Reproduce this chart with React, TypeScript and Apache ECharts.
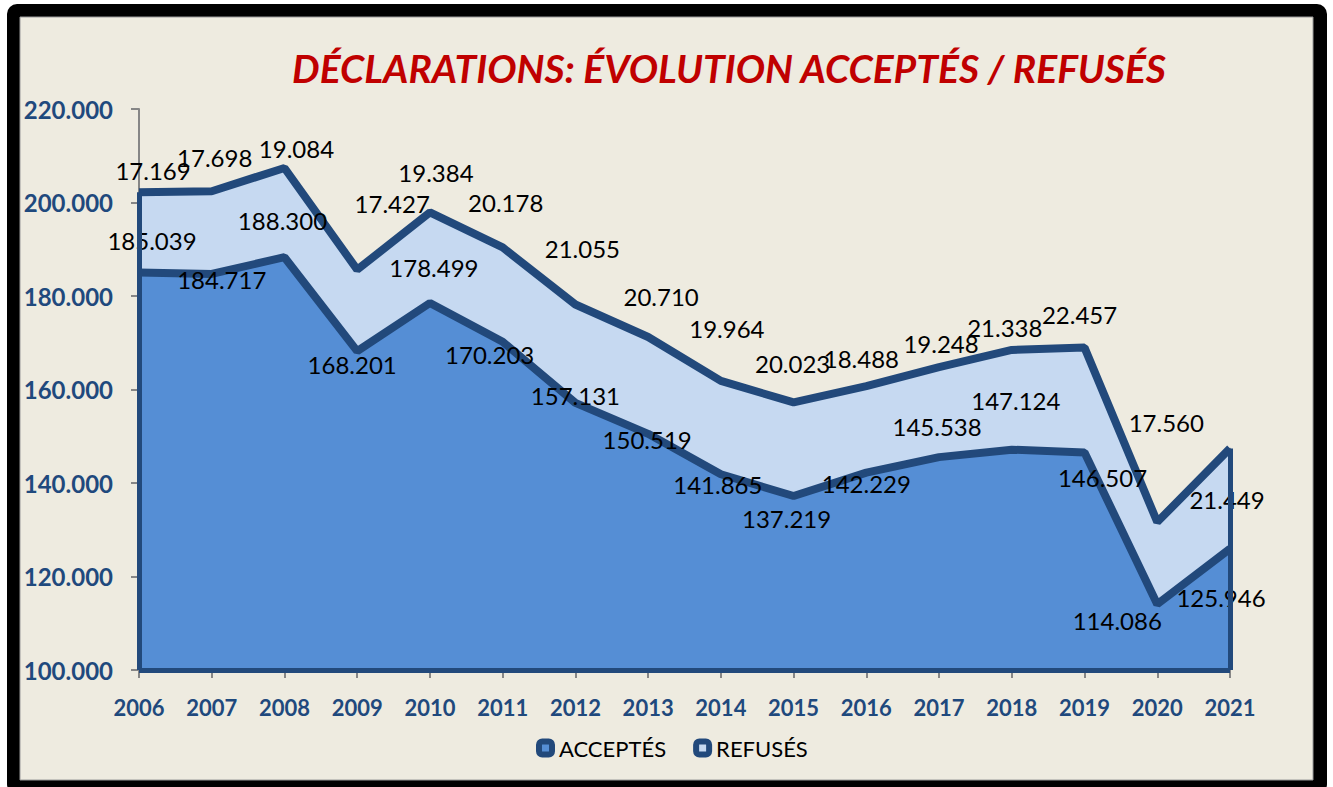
import React, { useEffect, useRef } from 'react';
import * as echarts from 'echarts';

const years = ['2006', '2007', '2008', '2009', '2010', '2011', '2012', '2013', '2014', '2015', '2016', '2017', '2018', '2019', '2020', '2021'];
const accepted = [185039, 184717, 188300, 168201, 178499, 170203, 157131, 150519, 141865, 137219, 142229, 145538, 147124, 146507, 114086, 125946];
const refused = [17169, 17698, 19084, 17427, 19384, 20178, 21055, 20710, 19964, 20023, 18488, 19248, 21338, 22457, 17560, 21449];
const yMin = 100000;
const yMax = 220000;
const yStep = 20000;

// label offsets (style only)
const accOffsets: number[][] = [[13, -32], [10, 6], [-2, -37], [-5, 13], [4, -36], [-13, 13], [0, -7], [-1, 6], [-3, 10], [-7, 22], [0, 11], [-2, -31], [4, -49], [18, 25], [-40, 16], [-9, 49]];
const refOffsets: number[][] = [[14, -22], [3, -34], [12, -19], [35, -66], [6, -40], [3, -45], [7, -56], [13, -41], [6, -52], [-1, -39], [-5, -28], [2, -24], [-7, -22], [-5, -33], [9, -100], [-3, 51]];

const DARK = '#22497B';
const ACC = '#558ED5';
const REF = '#C6D9F1';
const BG = '#EEEBE0';
const AXIS = '#868686';

const fmt = (v: number) => String(Math.round(v)).replace(/\B(?=(\d{3})+(?!\d))/g, '.');

export default function App() {
  const ref = useRef<HTMLDivElement>(null);
  useEffect(() => {
    if (!ref.current) return;
    const chart = echarts.init(ref.current, undefined, { renderer: 'svg' });
    const last = years.length - 1;
    const labelBase = {
      show: true,
      position: 'inside',
      align: 'center',
      verticalAlign: 'middle',
      fontFamily: 'Lato',
      fontSize: 24,
      color: '#000',
      formatter: (p: any) => fmt(p.value),
    };
    chart.setOption({
      animation: false,
      backgroundColor: '#ffffff',
      graphic: [
        { type: 'rect', shape: { x: 7, y: 4, width: 1320, height: 790, r: 10 }, style: { fill: '#000' }, z: -10, silent: true },
        { type: 'rect', shape: { x: 20, y: 17, width: 1293, height: 763 }, style: { fill: BG, stroke: '#9a9a9a', lineWidth: 1 }, z: -9, silent: true },
        {
          type: 'text', x: 729, y: 68, z: 10,
          style: {
            text: 'DÉCLARATIONS: ÉVOLUTION ACCEPTÉS / REFUSÉS',
            fill: '#C00000', font: 'italic bold 39px Lato', textAlign: 'center', textVerticalAlign: 'middle',
          },
        },
      ],
      grid: { left: 139, right: 103, top: 109, bottom: 117, containLabel: false },
      legend: {
        left: 533, top: 734, padding: 3, itemWidth: 13, itemHeight: 13, itemGap: 27,
        textStyle: { fontFamily: 'Lato', fontSize: 22, color: '#000', padding: [0, 0, 0, 2] },
        data: [
          { name: 'ACCEPTÉS', icon: 'roundRect', itemStyle: { color: ACC, borderColor: DARK, borderWidth: 6 } },
          { name: 'REFUSÉS', icon: 'roundRect', itemStyle: { color: REF, borderColor: DARK, borderWidth: 6 } },
        ],
      },
      xAxis: {
        type: 'category', data: years, boundaryGap: false,
        axisLine: { lineStyle: { color: AXIS, width: 2 } },
        axisTick: { show: true, length: 8, lineStyle: { color: AXIS, width: 2 } },
        axisLabel: { margin: 26, fontFamily: 'Lato', fontWeight: 'bold', fontSize: 22, color: '#1F497D' },
        splitLine: { show: false },
      },
      yAxis: {
        type: 'value', min: yMin, max: yMax, interval: yStep,
        axisLine: { show: true, lineStyle: { color: AXIS, width: 2 } },
        axisTick: { show: true, length: 8, lineStyle: { color: AXIS, width: 2 } },
        axisLabel: { margin: 26, fontFamily: 'Lato', fontWeight: 'bold', fontSize: 24, color: '#1F497D', formatter: (v: number) => fmt(v) },
        splitLine: { show: false },
      },
      series: [
        {
          name: 'ACCEPTÉS', type: 'line', stack: 'total', z: 3,
          symbol: 'circle', symbolSize: 1, showSymbol: true,
          itemStyle: { color: DARK },
          lineStyle: { color: DARK, width: 8 },
          areaStyle: { color: ACC, opacity: 1 },
          data: accepted.map((v, i) => ({ value: v, label: { ...labelBase, offset: accOffsets[i] } })),
          markLine: {
            silent: true, symbol: 'none', label: { show: false },
            lineStyle: { color: DARK, width: 5, type: 'solid' },
            data: [
              [{ coord: [years[0], yMin] }, { coord: [years[0], accepted[0] + refused[0]] }],
              [{ coord: [years[last], yMin] }, { coord: [years[last], accepted[last] + refused[last]] }],
              [{ coord: [years[0], yMin] }, { coord: [years[last], yMin] }],
            ],
          },
        },
        {
          name: 'REFUSÉS', type: 'line', stack: 'total', z: 2,
          symbol: 'circle', symbolSize: 1, showSymbol: true,
          itemStyle: { color: DARK },
          lineStyle: { color: DARK, width: 8 },
          areaStyle: { color: REF, opacity: 1 },
          data: refused.map((v, i) => ({ value: v, label: { ...labelBase, offset: refOffsets[i] } })),
        },
      ],
    });
    return () => chart.dispose();
  }, []);
  return <div ref={ref} style={{ position: 'fixed', left: 0, top: 0, width: 1333, height: 787 }} />;
}
